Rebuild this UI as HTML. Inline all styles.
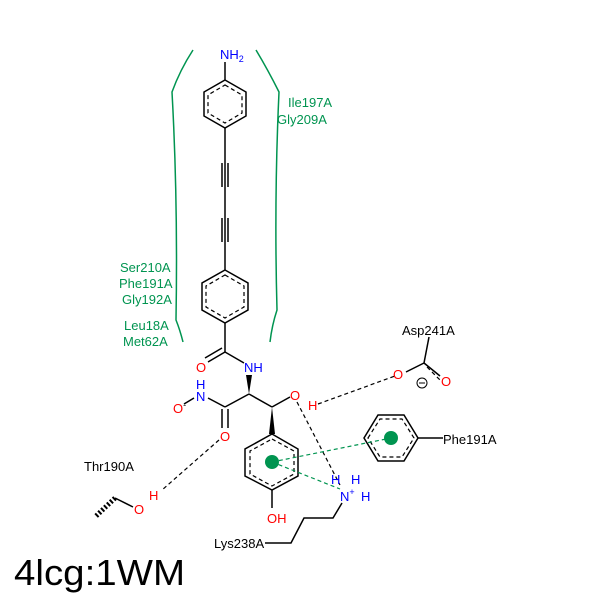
<!DOCTYPE html><html><head><style>body{margin:0;background:#fff}</style></head><body>
<svg width="600" height="600" viewBox="0 0 600 600" xmlns="http://www.w3.org/2000/svg" font-family="Liberation Sans, DejaVu Sans, sans-serif" font-size="13">
<rect width="600" height="600" fill="#fff"/>
<g fill="none" stroke="#009450" stroke-width="1.5">
<path d="M193,50 Q180,70 172,92 Q178,200 176,320 Q180,330 183,342"/>
<path d="M256,50 Q268,70 279,92 Q274,200 277,310 Q272,325 270,342"/>
</g>
<g stroke="#000" stroke-width="1.5" fill="none">
<polygon points="225,80 246,92 246,116 225,128 204,116 204,92"/>
<polygon points="225,270 248,283 248,310 225,323 202,310 202,283"/>
<line x1="225" y1="62" x2="225" y2="80"/>
<line x1="225" y1="128" x2="225" y2="270"/>
<line x1="222" y1="163" x2="222" y2="187"/><line x1="228" y1="163" x2="228" y2="187"/>
<line x1="222" y1="218" x2="222" y2="242"/><line x1="228" y1="218" x2="228" y2="242"/>
<line x1="225" y1="323" x2="225" y2="352"/>
<line x1="225" y1="352" x2="208" y2="362"/><line x1="222" y1="348" x2="205" y2="358"/>
<line x1="225" y1="352" x2="244" y2="363"/>
<line x1="249" y1="394" x2="225" y2="407"/>
<line x1="249" y1="394" x2="272" y2="407"/>
<line x1="225" y1="407" x2="208" y2="398"/>
<line x1="194" y1="398" x2="184" y2="404"/>
<line x1="222" y1="409" x2="222" y2="428"/><line x1="228" y1="409" x2="228" y2="428"/>
<line x1="272" y1="407" x2="290" y2="397"/>
<polygon points="272,434 298,449 298,476 272,490 245,476 245,449"/>
<line x1="272" y1="490" x2="272" y2="508"/>
<polygon points="364,438 378,415 404,415 418,438 404,461 378,461"/>
<line x1="418" y1="438" x2="443" y2="438"/>
<path d="M342,503 L333,518 L304,518 L291,543 L265,543"/>
<line x1="424" y1="363" x2="406" y2="372"/>
<line x1="424" y1="363" x2="440" y2="376"/>
<line x1="424" y1="363" x2="429" y2="337"/>
<line x1="115" y1="498" x2="133" y2="507"/>
</g>
<g stroke="#000" stroke-width="1.2" fill="none" stroke-dasharray="4,3">
<polygon points="225,85 242,95 242,113 225,123 208,113 208,95"/>
<polygon points="225,275 244,286 244,307 225,318 206,307 206,286"/>
<polygon points="272,439 294,451 294,474 272,486 250,474 250,451"/>
<polygon points="368,438 380,419 402,419 414,438 402,457 380,457"/>
<line x1="427" y1="367" x2="440" y2="380"/>
<line x1="318" y1="404" x2="395" y2="376"/>
<line x1="297" y1="402" x2="340" y2="485"/>
<line x1="219" y1="440" x2="162" y2="490"/>
</g>
<g stroke="#009450" stroke-width="1.2" stroke-dasharray="4,3"><line x1="272" y1="462" x2="391" y2="438"/><line x1="272" y1="462" x2="340" y2="489"/></g>
<circle cx="391" cy="438" r="7" fill="#009450"/><circle cx="272" cy="462" r="7" fill="#009450"/>
<polygon points="249,394 246,375 252,375" fill="#000"/>
<polygon points="272,407 269,434 275,434" fill="#000"/>
<g stroke="#000" stroke-width="1.2"><line x1="115" y1="498" x2="95" y2="517" stroke-dasharray="2,2" stroke-width="5"/></g>
<g fill="#0000ff">
<text x="220" y="59">NH<tspan font-size="9" dy="3">2</tspan></text>
<text x="244" y="372">NH</text>
<text x="196" y="389">H</text><text x="196" y="401">N</text>
<text x="331" y="484">H</text><text x="351" y="484">H</text>
<text x="340" y="501">N<tspan font-size="9" dy="-6">+</tspan></text>
<text x="361" y="501">H</text>
</g>
<g fill="#ff0000">
<text x="196" y="372">O</text>
<text x="173" y="413">O<tspan font-size="9" fill="#000" dy="-5">-</tspan></text>
<text x="220" y="441">O</text>
<text x="290" y="400">O</text><text x="308" y="410">H</text>
<text x="267" y="523">OH</text>
<text x="393" y="379">O</text><text x="441" y="386">O</text>
<text x="134" y="514">O</text><text x="149" y="500">H</text>
</g>
<circle cx="422" cy="383" r="5" fill="none" stroke="#000"/><line x1="419" y1="383" x2="425" y2="383" stroke="#000"/>
<g fill="#000">
<text x="402" y="335">Asp241A</text>
<text x="443" y="444">Phe191A</text>
<text x="84" y="471">Thr190A</text>
<text x="214" y="548">Lys238A</text>
<text x="14" y="585" font-size="36" textLength="171" lengthAdjust="spacingAndGlyphs">4lcg:1WM</text>
</g>
<g fill="#009450">
<text x="288" y="107">Ile197A</text><text x="277" y="124">Gly209A</text>
<text x="120" y="272">Ser210A</text><text x="119" y="288">Phe191A</text><text x="122" y="304">Gly192A</text>
<text x="124" y="330">Leu18A</text><text x="123" y="346">Met62A</text>
</g>
</svg></body></html>
